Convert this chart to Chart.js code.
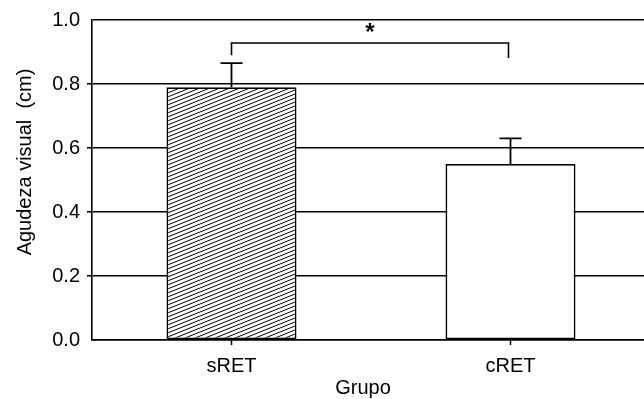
<!DOCTYPE html>
<html>
<head>
<meta charset="utf-8">
<script src="https://cdn.jsdelivr.net/npm/chart.js@4/dist/chart.umd.min.js"></script>
<style>
  html, body { margin: 0; padding: 0; background: #fff; overflow: hidden; }
  #wrap { position: relative; width: 652px; height: 399px; }
</style>
</head>
<body>
<div id="wrap"><canvas id="c"></canvas></div>
<script>
// Groups and their mean visual acuity with the upper error (SD)
const categories = ['sRET', 'cRET'];
const means = [0.79, 0.55];
const errors = [0.075, 0.08];
const yTicks = [0.0, 0.2, 0.4, 0.6, 0.8, 1.0];
const xTitle = 'Grupo';
const yTitle = 'Agudeza visual  (cm)';

// Significance bracket between the two groups
const bracketLevel = 0.928;
const bracketLegEnds = [0.89, 0.881];
const bracketMark = '*';
const bracketMarkLevel = 0.978;

const FONT = "'Liberation Sans', Arial, sans-serif";
const FONT_SIZE = 20;
const INK = '#000';

// Diagonal hatching for the first bar
function hatchPattern() {
  const tile = document.createElement('canvas');
  tile.width = 10; tile.height = 4;
  const t = tile.getContext('2d');
  t.fillStyle = '#fff';
  t.fillRect(0, 0, 10, 4);
  t.strokeStyle = '#000';
  t.lineWidth = 1;
  for (let k = -1; k <= 2; k++) {
    t.beginPath();
    t.moveTo(-1, 4 * k + 0.4);
    t.lineTo(11, 4 * k - 4.4);
    t.stroke();
  }
  return t.createPattern(tile, 'repeat');
}

const annotations = {
  id: 'annotations',
  afterDatasetsDraw(chart) {
    const {ctx, chartArea, scales: {x, y}} = chart;
    ctx.save();
    ctx.strokeStyle = INK;
    ctx.lineWidth = 1.8;
    // error bars (upper side only)
    means.forEach((m, i) => {
      const cx = x.getPixelForValue(i);
      const yb = y.getPixelForValue(m);
      const yt = y.getPixelForValue(m + errors[i]);
      ctx.beginPath();
      ctx.moveTo(cx, yb);
      ctx.lineTo(cx, yt);
      ctx.moveTo(cx - 11, yt);
      ctx.lineTo(cx + 11, yt);
      ctx.stroke();
    });
    // significance bracket
    const x0 = x.getPixelForValue(0);
    const x1 = x.getPixelForValue(1) - 2;
    const yl = y.getPixelForValue(bracketLevel);
    ctx.lineWidth = 1.6;
    ctx.beginPath();
    ctx.moveTo(x0, y.getPixelForValue(bracketLegEnds[0]));
    ctx.lineTo(x0, yl);
    ctx.lineTo(x1, yl);
    ctx.lineTo(x1, y.getPixelForValue(bracketLegEnds[1]));
    ctx.stroke();
    ctx.fillStyle = INK;
    ctx.font = 'bold 24px ' + FONT;
    ctx.textAlign = 'center';
    ctx.textBaseline = 'alphabetic';
    const m = ctx.measureText(bracketMark);
    const cyStar = y.getPixelForValue(bracketMarkLevel);
    const off = (m.actualBoundingBoxAscent - m.actualBoundingBoxDescent) / 2;
    ctx.fillText(bracketMark, (x0 + x1) / 2, cyStar + off);

    // axis titles
    ctx.font = FONT_SIZE + 'px ' + FONT;
    ctx.textAlign = 'center';
    ctx.textBaseline = 'alphabetic';
    ctx.fillText(xTitle, chartArea.left + 271, chartArea.bottom + 54);
    ctx.translate(chartArea.left - 61, chartArea.top + 142);
    ctx.rotate(-Math.PI / 2);
    ctx.fillText(yTitle, 0, 0);
    ctx.restore();
  }
};

new Chart(document.getElementById('c'), {
  type: 'bar',
  data: {
    labels: categories,
    datasets: [{
      data: means,
      backgroundColor: [hatchPattern(), '#fff'],
      borderColor: INK,
      borderWidth: 1.8,
      borderSkipped: false,
      categoryPercentage: 1,
      barPercentage: 0.466
    }]
  },
  options: {
    responsive: true,
    maintainAspectRatio: false,
    devicePixelRatio: 1,
    animation: false,
    layout: { padding: { top: 20, right: 2, bottom: 0, left: 0 } },
    plugins: { legend: { display: false }, tooltip: { enabled: false } },
    scales: {
      x: {
        offset: true,
        afterFit(s) { s.height = 59; },
        grid: { offset: false, drawOnChartArea: false, drawTicks: true, tickLength: 5, tickColor: INK, tickWidth: 1.5 },
        border: { display: true, color: INK, width: 1.6 },
        ticks: { color: INK, font: { family: FONT, size: FONT_SIZE }, padding: 9 }
      },
      y: {
        min: 0, max: 1,
        afterFit(s) { s.width = 92; },
        afterBuildTicks(s) { s.ticks = yTicks.map(v => ({ value: v })); },
        grid: {
          color: INK, lineWidth: 1.6, tickLength: 5, tickWidth: 1.6,
          tickColor: ctx => (ctx.tick && (ctx.tick.value === 0 || ctx.tick.value === 1)) ? 'rgba(0,0,0,0)' : INK
        },
        border: { display: true, color: INK, width: 1.6 },
        ticks: { color: INK, font: { family: FONT, size: FONT_SIZE }, padding: 7, callback: v => Number(v).toFixed(1) }
      }
    }
  },
  plugins: [annotations]
});
</script>
</body>
</html>
